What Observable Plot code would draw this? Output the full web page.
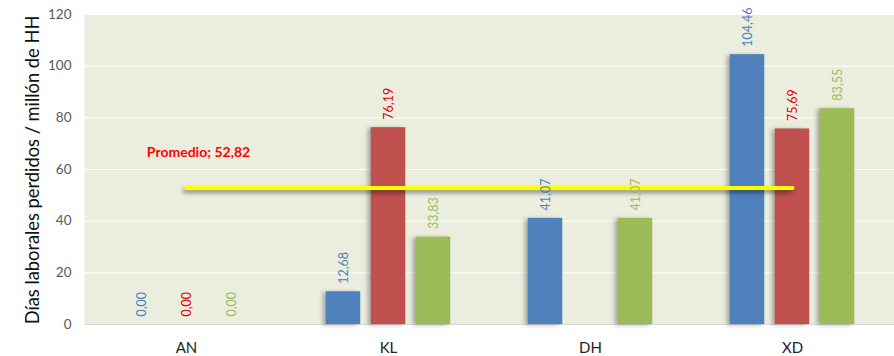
<!DOCTYPE html>
<html>
<head>
<meta charset="utf-8">
<script src="https://cdn.jsdelivr.net/npm/d3@7"></script>
<script src="https://cdn.jsdelivr.net/npm/@observablehq/plot@0.6"></script>
<style>
  html, body { margin: 0; padding: 0; background: #fff; }
  #chart svg { display: block; }
</style>
</head>
<body>
<div id="chart"></div>
<script>
// ---- data ----
const categories = ["AN", "KL", "DH", "XD"];
const seriesNames = ["s1", "s2", "s3"];
const seriesValues = [
  [0, 12.68, 41.07, 104.46],   // blue
  [0, 76.19, null, 75.69],     // red
  [0, 33.83, 41.07, 83.55]     // green
];
const average = 52.82;
const averageLabel = "Promedio; 52,82";
const yTicks = [0, 20, 40, 60, 80, 100, 120];
const yLabel = "Días laborales perdidos / millón de HH";

// ---- styles ----
const barColors = ["#4f81bd", "#c0504d", "#9bbb59"];
const labelColors = ["#4f81bd", "#e00000", "#9bbb59"];
const offsets = [-45, 0, 45];
const barWidth = 35;

const width = 894, height = 356;
const marginLeft = 84, marginRight = 0, marginTop = 14, marginBottom = 32;
const bandwidth = (width - marginLeft - marginRight) / categories.length;
const inset = (bandwidth - barWidth) / 2;

const fmt = v => d3.format(".2f")(v).replace(".", ",");

const rows = seriesValues.map((vals, s) =>
  categories.map((c, i) => ({category: c, series: seriesNames[s], value: vals[i]}))
    .filter(d => d.value != null)
);

const marks = [
  Plot.frame({fill: "#ebeedf", stroke: "none"}),
  Plot.gridY(yTicks, {stroke: "#ffffff", strokeOpacity: 1, strokeWidth: 1}),
  Plot.ruleY([0], {stroke: "#d9d9d9"})
];
rows.forEach((data, s) => {
  marks.push(Plot.barY(data, {
    x: "category", y: "value", fill: barColors[s],
    dx: offsets[s], insetLeft: inset, insetRight: inset
  }));
});
marks.push(Plot.lineY([{category: categories[0], v: average}, {category: categories[categories.length - 1], v: average}], {
  x: "category", y: "v", stroke: "#ffff00", strokeWidth: 4
}));
rows.forEach((data, s) => {
  marks.push(Plot.text(data, {
    x: "category", y: "value", text: d => fmt(d.value),
    rotate: -90, textAnchor: "start", dx: offsets[s], dy: -8,
    fill: labelColors[s], fontSize: 12.5
  }));
});
marks.push(Plot.text([{category: categories[0], v: average}], {
  x: "category", y: "v", text: () => averageLabel,
  dx: 12, dy: -36, fill: "#ff0000", fontWeight: "bold", fontSize: 14
}));
marks.push(Plot.axisY(yTicks, {tickSize: 0, tickPadding: 13, fontSize: 13.5, fill: "#595959", label: null}));
marks.push(Plot.axisX({tickSize: 0, tickPadding: 18, fontSize: 15, fill: "#222", label: null}));

const chart = Plot.plot({
  width, height, marginLeft, marginRight, marginTop, marginBottom,
  style: {fontFamily: "Lato, 'Open Sans', sans-serif", background: "#fff"},
  x: {type: "band", domain: categories, padding: 0},
  y: {domain: [0, 120]},
  marks
});

// y-axis title
const svg = d3.select(chart);
svg.append("text")
  .attr("transform", `translate(39,${marginTop + (height - marginTop - marginBottom) / 2 + 1}) rotate(-90)`)
  .attr("text-anchor", "middle")
  .attr("font-size", 18.3)
  .attr("fill", "#111")
  .text(yLabel);

// shadows
svg.selectAll("g[aria-label='bar']").style("filter", "drop-shadow(-3px 1px 2px rgba(0,0,0,0.3))");
svg.selectAll("g[aria-label='line']").style("filter", "drop-shadow(-2px 3px 2px rgba(0,0,0,0.45))");

document.getElementById("chart").appendChild(chart);
</script>
</body>
</html>
